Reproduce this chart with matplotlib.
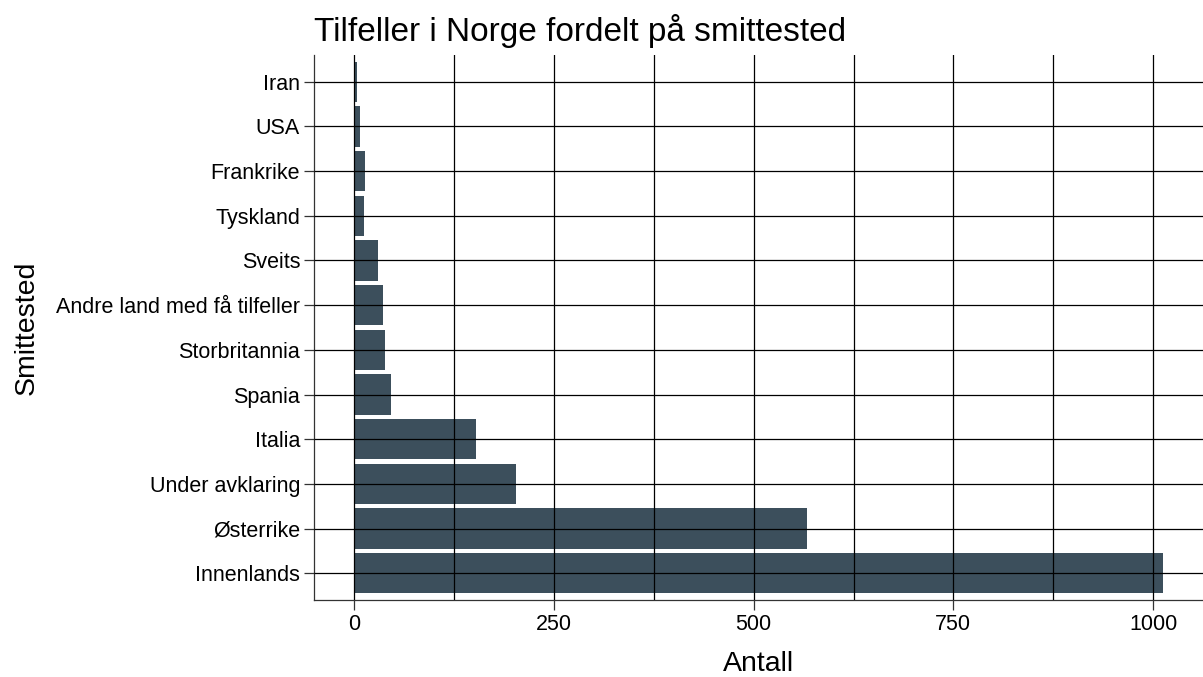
import matplotlib
matplotlib.use("Agg")
import matplotlib.pyplot as plt
from matplotlib.ticker import MultipleLocator

plt.rcParams["font.family"] = ["Liberation Sans", "DejaVu Sans"]

# Data (bottom to top)
steder = ["Innenlands", "Østerrike", "Under avklaring", "Italia", "Spania",
          "Storbritannia", "Andre land med få tilfeller", "Sveits",
          "Tyskland", "Frankrike", "USA", "Iran"]
antall = [1012, 567, 202, 152, 46, 38, 36, 30, 12, 13, 7, 3]

fig = plt.figure(figsize=(12.03, 6.77), dpi=100)
ax = fig.add_axes([314 / 1203, 1 - 600 / 677, 1 - 314 / 1203, (600 - 55) / 677])

ypos = list(range(len(steder)))
ax.barh(ypos, antall, height=0.9, color="#3c4f5c", zorder=2)

ax.set_xlim(-50.6, 1062.6)
ax.set_ylim(-0.6, len(steder) - 1 + 0.6)
ax.set_yticks(ypos)
ax.set_yticklabels(steder)
ax.xaxis.set_major_locator(MultipleLocator(250))
ax.xaxis.set_minor_locator(MultipleLocator(125))

ax.grid(True, which="major", color="black", linewidth=0.9, zorder=3)
ax.grid(True, which="minor", axis="x", color="black", linewidth=0.9, zorder=3)
ax.set_axisbelow(False)

for s in ["top", "right"]:
    ax.spines[s].set_visible(False)
for s in ["left", "bottom"]:
    ax.spines[s].set_color("#333333")
    ax.spines[s].set_linewidth(0.9)

ax.tick_params(axis="both", which="major", length=7, width=0.9, color="#333333",
               labelsize=15.5, labelcolor="black", pad=3)
ax.tick_params(axis="x", which="minor", length=0)

ax.set_title("Tilfeller i Norge fordelt på smittested", fontsize=24, loc="left",
             pad=10, x=0.0)
ax.set_xlabel("Antall", fontsize=20.5, labelpad=11.5)
ax.set_ylabel("Smittested", fontsize=20.5, labelpad=12)

fig.savefig("out.png", dpi=100)
